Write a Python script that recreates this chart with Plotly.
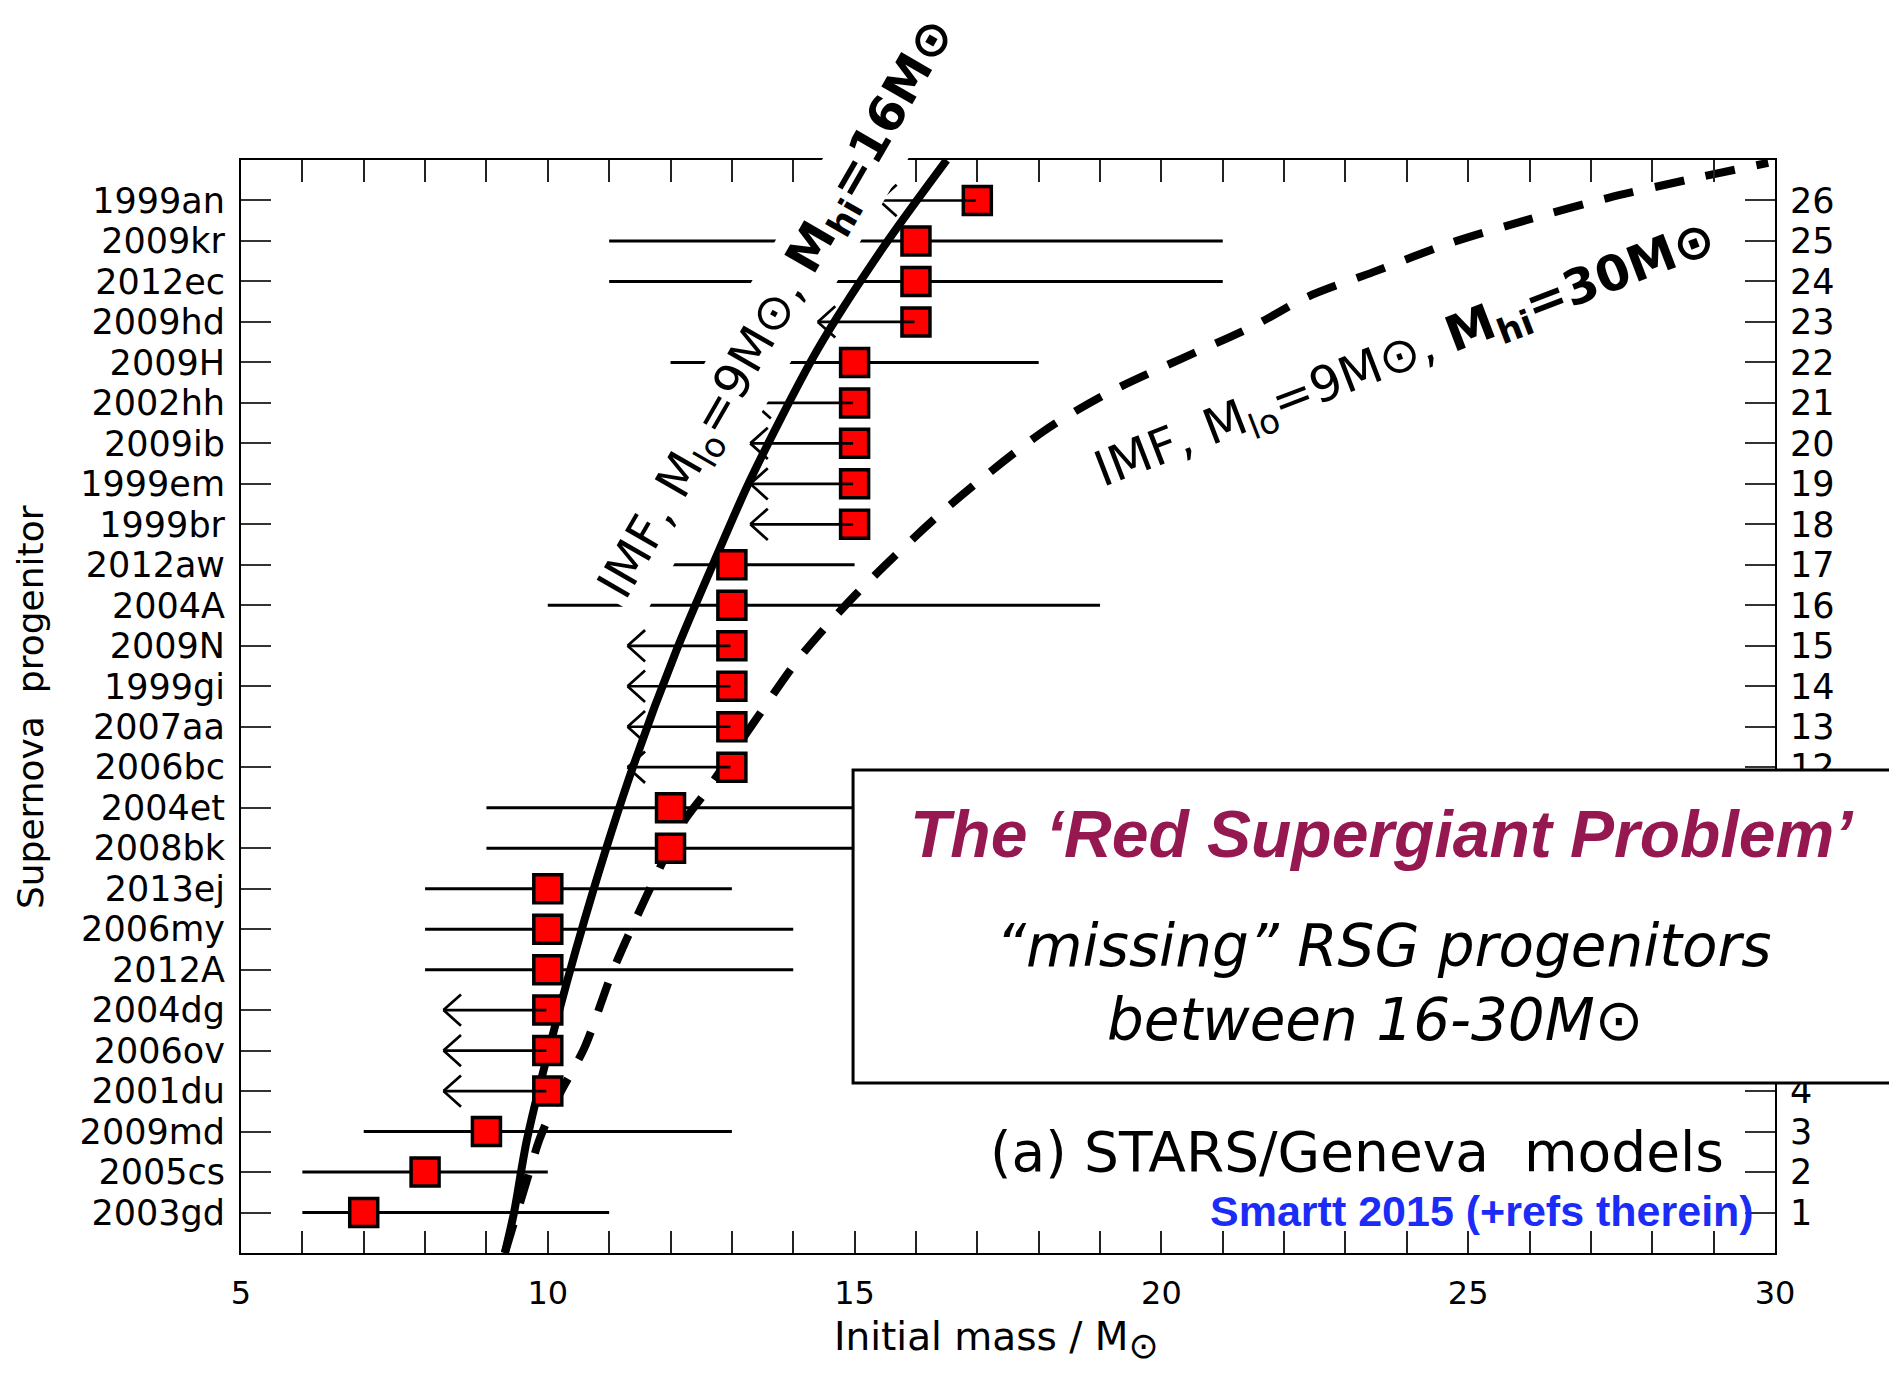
import plotly.graph_objects as go

# ---------------- data ----------------
sn_names = ["2003gd", "2005cs", "2009md", "2001du", "2006ov", "2004dg", "2012A",
            "2006my", "2013ej", "2008bk", "2004et", "2006bc", "2007aa", "1999gi",
            "2009N", "2004A", "2012aw", "1999br", "1999em", "2009ib", "2002hh",
            "2009H", "2009hd", "2012ec", "2009kr", "1999an"]
sn_rank = list(range(1, 27))
sn_mass = [7, 8, 9, 10, 10, 10, 10, 10, 10, 12, 12, 13, 13, 13, 13, 13, 13,
           15, 15, 15, 15, 15, 16, 16, 16, 17]
# two-sided mass ranges (None for upper limits)
mass_low = [6, 6, 7, None, None, None, 8, 8, 8, 9, 9, None, None, None, None, 10, 12,
            None, None, None, None, 12, None, 11, 11, None]
mass_high = [11, 10, 13, None, None, None, 14, 14, 13, 16, 16, None, None, None, None, 19, 15,
             None, None, None, None, 18, None, 21, 21, None]
# tip of the upper-limit arrows (None for two-sided ranges)
limit_tip = [None, None, None, 8.3, 8.3, 8.3, None, None, None, None, None,
             11.3, 11.3, 11.3, 11.3, None, None, 13.3, 13.3, 13.3, 13.35, None,
             14.4, None, None, 15.4]

# IMF curves (Mlo=9, Mhi=16 and Mhi=30)
imf16_mass = [9.30, 9.45, 9.66, 10.17, 10.75, 11.40, 12.10, 12.76, 13.30, 14.39, 15.47, 16.50]
imf16_n = [0.0, 1.0, 2.8, 5.9, 9.0, 12.06, 14.9, 17.25, 19.1, 22.3, 24.85, 27.0]
imf30_mass = [9.30, 9.66, 9.87, 10.17, 10.60, 11.05, 11.56, 12.20, 12.56, 13.35, 14.11,
              15.04, 16.50, 18.08, 19.20, 21.50, 22.38, 23.45, 24.71, 25.96, 27.27, 28.57, 29.89]
imf30_n = [0.0, 1.8, 2.83, 3.86, 5.08, 6.93, 8.66, 10.62, 11.36, 13.09, 14.72,
           16.3, 18.4, 20.3, 21.3, 22.9, 23.62, 24.23, 24.95, 25.52, 26.06, 26.51, 26.93]

x_ticks = [5, 10, 15, 20, 25, 30]

# ---------------- figure ----------------
TICKFONT = "DejaVu Sans"
fig = go.Figure()

fig.add_trace(go.Scatter(
    x=imf16_mass, y=imf16_n, mode="lines",
    line=dict(color="black", width=8, shape="spline", smoothing=0.8),
    showlegend=False, hoverinfo="skip"))
fig.add_trace(go.Scatter(
    x=imf30_mass, y=imf30_n, mode="lines",
    line=dict(color="black", width=8, dash="30px,22px", shape="spline", smoothing=0.8),
    showlegend=False, hoverinfo="skip"))

err_plus = [(h - m) if h is not None else 0 for h, m in zip(mass_high, sn_mass)]
err_minus = [(m - l) if l is not None else 0 for l, m in zip(mass_low, sn_mass)]

fig.add_trace(go.Scatter(
    x=sn_mass, y=sn_rank, mode="markers",
    marker=dict(symbol="square", size=28, color="#ff0000",
                line=dict(color="black", width=3.5)),
    error_x=dict(type="data", symmetric=False, array=err_plus, arrayminus=err_minus,
                 color="black", thickness=3, width=0),
    showlegend=False, cliponaxis=False))

# invisible trace for the right-hand axis
fig.add_trace(go.Scatter(x=[None], y=[None], yaxis="y2", showlegend=False))

annotations = []
ARM_DX, ARM_DY = 19, 17  # open chevron arm size in pixels
for m, r, tip in zip(sn_mass, sn_rank, limit_tip):
    if tip is None:
        continue
    # shaft: from the marker centre to the limit
    annotations.append(dict(
        x=tip, y=r, ax=m, ay=r, xref="x", yref="y", axref="x", ayref="y",
        text="", showarrow=True, arrowhead=0, arrowwidth=2.7,
        arrowcolor="black", standoff=0, startstandoff=0))
    # two arms of the open arrow head
    for sgn in (-1, 1):
        annotations.append(dict(
            x=tip, y=r, xref="x", yref="y", ax=ARM_DX, ay=sgn * ARM_DY,
            text="", showarrow=True, arrowhead=0, arrowwidth=2.7,
            arrowcolor="black", standoff=0, startstandoff=0))

# curve labels
annotations.append(dict(
    x=13.76, y=23.3, xref="x", yref="y", showarrow=False,
    text="IMF, M<sub>lo</sub>=9M\u2299, <b>M<sub>hi</sub>=16M\u2299</b>",
    textangle=-60, font=dict(family=TICKFONT, size=49, color="black"),
    bgcolor="white", borderpad=5, xanchor="center", yanchor="middle"))
annotations.append(dict(
    x=23.98, y=22.15, xref="x", yref="y", showarrow=False,
    text="IMF, M<sub>lo</sub>=9M\u2299, <b>M<sub>hi</sub>=30M\u2299</b>",
    textangle=-21, font=dict(family=TICKFONT, size=49, color="black"),
    xanchor="center", yanchor="middle"))

# box texts
annotations.append(dict(
    x=0.7438, y=0.3833, xref="paper", yref="paper", showarrow=False,
    text="<b><i>The \u2018Red Supergiant Problem\u2019</i></b>",
    font=dict(family="Liberation Sans, Arial, sans-serif", size=66, color="#961850"),
    xanchor="center", yanchor="middle"))
annotations.append(dict(
    x=0.745, y=0.2809, xref="paper", yref="paper", showarrow=False,
    text="<i>\u201cmissing\u201d RSG progenitors</i>",
    font=dict(family=TICKFONT, size=58, color="black", weight=300),
    xanchor="center", yanchor="middle"))
annotations.append(dict(
    x=0.7393, y=0.2132, xref="paper", yref="paper", showarrow=False,
    text="<i>between 16-30M\u2299</i>",
    font=dict(family=TICKFONT, size=58, color="black", weight=300),
    xanchor="center", yanchor="middle"))

annotations.append(dict(
    x=0.968, y=0.092, xref="paper", yref="paper", showarrow=False,
    text="(a) STARS/Geneva  models",
    font=dict(family=TICKFONT, size=55, color="black"),
    xanchor="right", yanchor="middle"))
annotations.append(dict(
    x=0.9876, y=0.0387, xref="paper", yref="paper", showarrow=False,
    text="<b>Smartt 2015 (+refs therein)</b>",
    font=dict(family="Liberation Sans Narrow, Arial Narrow, Liberation Sans, sans-serif",
              size=43, color="#1a2cf5"),
    xanchor="right", yanchor="middle"))

# axis titles
annotations.append(dict(
    x=0.385, y=-0.054, xref="paper", yref="paper", showarrow=False,
    text="Initial mass / M<sub><span style='font-size:36px'>\u2299</span></sub>",
    font=dict(family=TICKFONT, size=39, color="black"),
    xanchor="left", yanchor="top"))
annotations.append(dict(
    x=-0.1375, y=0.4995, xref="paper", yref="paper", showarrow=False,
    text="Supernova  progenitor", textangle=-90,
    font=dict(family=TICKFONT, size=36, color="black"),
    xanchor="center", yanchor="middle"))

fig.update_layout(
    width=1889, height=1375,
    margin=dict(l=241, r=114, t=160, b=122),
    paper_bgcolor="white", plot_bgcolor="white",
    showlegend=False,
    xaxis=dict(range=[5, 30], tickvals=x_ticks, ticktext=[str(v) for v in x_ticks],
               ticks="inside", ticklen=22, tickwidth=1.5, tickcolor="#222",
               minor=dict(dtick=1, tick0=5, ticks="inside", ticklen=11,
                          tickwidth=1.5, tickcolor="#222"),
               showline=True, linecolor="black", linewidth=2, mirror="allticks",
               showgrid=False, zeroline=False, ticklabelstandoff=11,
               tickfont=dict(family=TICKFONT, size=32, color="black")),
    yaxis=dict(range=[0, 27], tickvals=sn_rank, ticktext=sn_names,
               ticks="inside", ticklen=30, tickwidth=1.5, tickcolor="#333",
               showline=True, linecolor="black", linewidth=2,
               showgrid=False, zeroline=False, ticklabelstandoff=7,
               tickfont=dict(family=TICKFONT, size=35, color="black")),
    yaxis2=dict(range=[0, 27], overlaying="y", side="right",
                tickvals=sn_rank, ticktext=[str(r) for r in sn_rank],
                ticks="inside", ticklen=30, tickwidth=1.5, tickcolor="#333",
                showline=True, linecolor="black", linewidth=2,
                showgrid=False, zeroline=False, ticklabelstandoff=6,
                tickfont=dict(family=TICKFONT, size=35, color="black")),
    shapes=[dict(type="rect", xref="paper", yref="paper",
                 x0=0.399, x1=1.2, y0=0.1555, y1=0.4419,
                 fillcolor="white", line=dict(color="black", width=3),
                 layer="above")],
    annotations=annotations,
)

fig.write_html("out.html")
